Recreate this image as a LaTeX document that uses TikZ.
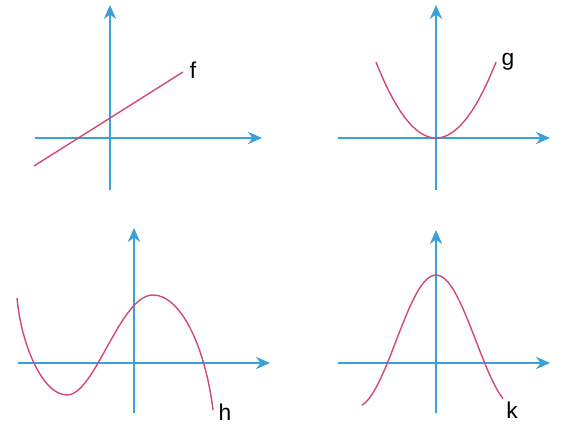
\documentclass[tikz,border=0pt]{standalone}
\usepackage{fontspec}
\setmainfont{Liberation Sans}
\usetikzlibrary{arrows.meta}
\definecolor{axisblue}{RGB}{59,160,214}
\definecolor{curvered}{RGB}{210,72,118}
\tikzset{
  axis/.style={draw=axisblue, line width=1.1pt, -{Stealth[length=8pt, width=7pt]}},
  curve/.style={draw=curvered, line width=0.8pt},
  fname/.style={font=\fontsize{13}{15}\selectfont, inner sep=0pt}
}
\begin{document}
\begin{tikzpicture}[x=0.02cm, y=0.02cm]
    \useasboundingbox (0,0) rectangle (563,425);
    % Axes of the four panels
    \foreach \n/\ox/\oy/\xl/\xr/\yb/\yt in {f/110/287/-75/152/-52/133, g/436/287/-98/114/-52/133,
                                             h/134/62/-116/136/-50/135, k/436/62/-98/114/-50/133} {
        \coordinate (o\n) at (\ox,\oy);
        \coordinate (l\n) at (\ox+\xl,\oy);
        \coordinate (r\n) at (\ox+\xr,\oy);
        \coordinate (b\n) at (\ox,\oy+\yb);
        \coordinate (t\n) at (\ox,\oy+\yt);
        \draw[axis] (l\n) -- (r\n);
        \draw[axis] (b\n) -- (t\n);
    }
    % f: straight line
    \begin{scope}[shift={(of)}]
        \draw[curve] (-76,-28) -- (73,66);
        \node[fname] (labf) at (83,68) {f};
    \end{scope}
    % g: parabola
    \begin{scope}[shift={(og)}]
        \draw[curve] plot[domain=-60:60, samples=50] (\x, {0.0211*\x*\x});
        \node[fname] (labg) at (72,76) {g};
    \end{scope}
    % h: cubic
    \begin{scope}[shift={(oh)}]
        \draw[curve] (-117,65) .. controls (-113,20) and (-92,-32) .. (-67,-32)
                     .. controls (-39,-32) and (-14,68) .. (19,68)
                     .. controls (46,68) and (71,18) .. (79,-47);
        \node[fname] (labh) at (91,-49) {h};
    \end{scope}
    % k: bell
    \begin{scope}[shift={(ok)}]
        \draw[curve] plot[domain=-74:67, samples=60] (\x, {22+66*cos(\x*2.25)});
        \node[fname] (labk) at (76,-47) {k};
    \end{scope}
\end{tikzpicture}
\end{document}
